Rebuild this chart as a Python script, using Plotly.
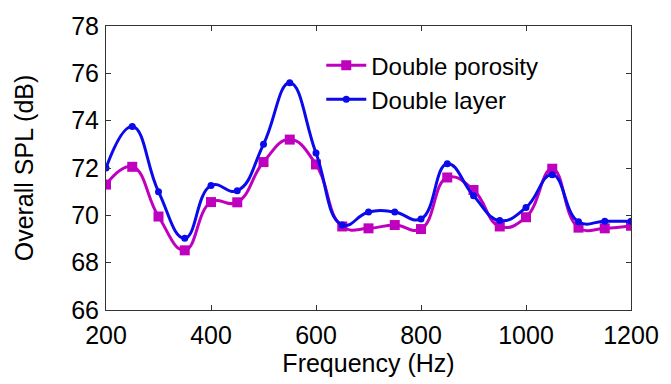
import plotly.graph_objects as go

# Frequency bands (Hz)
freq = [200, 250, 300, 350, 400, 450, 500, 550, 600, 650, 700,
        750, 800, 850, 900, 950, 1000, 1050, 1100, 1150, 1200]

# Overall SPL (dB) for each configuration
spl_double_porosity = [71.3, 72.05, 69.95, 68.52, 70.56, 70.55, 72.25, 73.2, 72.15, 69.53, 69.45,
                       69.59, 69.42, 71.6, 71.07, 69.53, 69.92, 71.97, 69.48, 69.45, 69.56]
spl_double_layer = [72.0, 73.75, 71.0, 69.03, 71.26, 71.04, 73.0, 75.6, 72.63, 69.59, 70.14,
                    70.14, 69.85, 72.18, 70.83, 69.78, 70.33, 71.72, 69.73, 69.75, 69.75]

x_ticks = [200, 400, 600, 800, 1000, 1200]
y_ticks = [66, 68, 70, 72, 74, 76, 78]

font_family = "Arial, Liberation Sans, sans-serif"
magenta = "#BF00BF"
blue = "#0A0AEB"

fig = go.Figure()
fig.add_trace(go.Scatter(
    x=freq, y=spl_double_porosity, name="Double porosity",
    mode="lines+markers",
    line=dict(color=magenta, width=3, shape="spline", smoothing=1.3),
    marker=dict(symbol="square", size=10, color=magenta),
))
fig.add_trace(go.Scatter(
    x=freq, y=spl_double_layer, name="Double layer",
    mode="lines+markers",
    line=dict(color=blue, width=3, shape="spline", smoothing=1.3),
    marker=dict(symbol="circle", size=7, color=blue),
))

axis_common = dict(
    showgrid=False, zeroline=False, showline=True, linecolor="#333333", linewidth=1,
    mirror="ticks", ticks="inside", ticklen=5, tickcolor="#333333",
    tickfont=dict(family=font_family, size=25, color="black"),
)

fig.update_layout(
    width=671, height=384,
    margin=dict(l=106, r=37, t=20, b=72),
    paper_bgcolor="white", plot_bgcolor="white",
    font=dict(family=font_family, color="black"),
    xaxis=dict(range=[200, 1200], tickvals=x_ticks, ticklabelstandoff=3,
               title=dict(text="Frequency (Hz)", font=dict(size=25), standoff=5),
               **axis_common),
    yaxis=dict(range=[66, 78], tickvals=y_ticks, ticklabelstandoff=1,
               title=dict(text="Overall SPL (dB)", font=dict(size=25), standoff=30),
               **axis_common),
    legend=dict(x=0.41, y=0.94, xanchor="left", yanchor="top",
                bgcolor="rgba(0,0,0,0)", font=dict(size=24, family=font_family),
                tracegroupgap=0, itemwidth=40),
    showlegend=True,
)

fig.write_html("out.html")
